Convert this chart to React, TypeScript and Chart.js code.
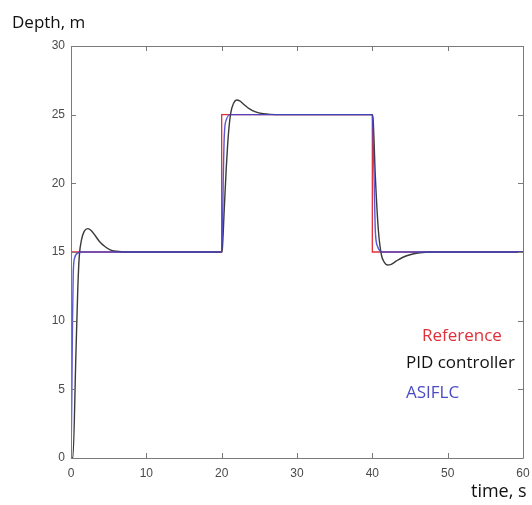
import React, { useEffect, useRef } from "react";
import { Chart, registerables } from "chart.js";

Chart.register(...registerables);

// Reference (setpoint) step signal
const refTime = [0, 0, 20, 20, 40, 40, 60];
const refDepth = [0, 15, 15, 25, 25, 15, 15];

// PID controller response
const pidTime = [0, 0.25, 0.65, 0.9, 1.1, 1.4, 1.75, 2.25, 2.7, 3.2, 3.8, 4.5, 5.2, 6.0, 7.5, 20.0, 20.1, 20.35, 20.6, 20.9, 21.2, 21.6, 22.0, 22.4, 23.0, 23.7, 24.5, 25.5, 26.5, 28, 40.0, 40.1, 40.4, 40.8, 41.2, 41.6, 42.0, 42.5, 43.2, 44, 45, 46.3, 48, 60];
const pidDepth = [0, 0, 7.5, 12.3, 14.7, 15.9, 16.5, 16.7, 16.55, 16.2, 15.75, 15.4, 15.15, 15.05, 15, 15, 15.3, 18.2, 21.0, 23.6, 25.1, 25.85, 26.07, 26.0, 25.72, 25.42, 25.2, 25.07, 25.02, 25, 25, 24.7, 20.5, 16.6, 14.8, 14.25, 14.05, 14.1, 14.35, 14.6, 14.8, 14.95, 15, 15];

// ASIFLC response
const asiTime = [0, 0.1, 0.2, 0.3, 0.5, 1.0, 1.5, 20, 20.1, 20.2, 20.35, 20.6, 21.2, 40, 40.1, 40.25, 40.4, 40.7, 41.3, 60];
const asiDepth = [0, 4, 10, 13.5, 14.6, 14.95, 15, 15, 16.5, 20, 23.5, 24.6, 25, 25, 23.5, 20, 16.5, 15.4, 15, 15];

const xTicksStep = 10;
const yTicksStep = 5;

const legendLabels = ["Reference", "PID controller", "ASIFLC"];
const legendColors = ["#e0303a", "#111111", "#4b4bc8"];

const toPoints = (t: number[], v: number[]) => t.map((x, i) => ({ x, y: v[i] }));

const boxPlugin = {
  id: "matlabBox",
  afterDraw(chart: any) {
    const { ctx, chartArea } = chart;
    const { left, right, top, bottom } = chartArea;
    const xs = chart.scales.x;
    const ys = chart.scales.y;
    ctx.save();
    ctx.strokeStyle = "#7a7a7a";
    ctx.lineWidth = 1;
    ctx.beginPath();
    ctx.rect(left + 0.5, top + 0.5, right - left, bottom - top);
    ctx.stroke();
    const tl = 5;
    ctx.beginPath();
    xs.ticks.forEach((t: any) => {
      const px = Math.round(xs.getPixelForValue(t.value)) + 0.5;
      ctx.moveTo(px, bottom);
      ctx.lineTo(px, bottom - tl);
      ctx.moveTo(px, top);
      ctx.lineTo(px, top + tl);
    });
    ys.ticks.forEach((t: any) => {
      const py = Math.round(ys.getPixelForValue(t.value)) + 0.5;
      ctx.moveTo(left, py);
      ctx.lineTo(left + tl, py);
      ctx.moveTo(right, py);
      ctx.lineTo(right - tl, py);
    });
    ctx.stroke();

    // axis titles
    ctx.fillStyle = "#111";
    ctx.textBaseline = "middle";
    ctx.textAlign = "left";
    ctx.font = "17px 'Open Sans'";
    ctx.fillText("Depth, m", 12, 23);
    ctx.font = "18px 'Open Sans'";
    ctx.fillText("time, s", 471, 492);

    // legend texts
    ctx.font = "17px 'Open Sans'";
    const pos = [
      [422, 336],
      [406, 363],
      [406, 393],
    ];
    legendLabels.forEach((lab, i) => {
      ctx.fillStyle = legendColors[i];
      ctx.fillText(lab, pos[i][0], pos[i][1]);
    });
    ctx.restore();
  },
};

export default function App() {
  const ref = useRef<HTMLCanvasElement | null>(null);
  useEffect(() => {
    if (!ref.current) return;
    const tickFont = { family: "'Liberation Sans', Arial, sans-serif", size: 12 };
    const chart = new Chart(ref.current, {
      type: "line",
      data: {
        datasets: [
          {
            label: "ASIFLC",
            data: toPoints(asiTime, asiDepth),
            borderColor: "rgba(70,70,205,0.9)",
            borderWidth: 1.4,
            pointRadius: 0,
            cubicInterpolationMode: "monotone",
          },
          {
            label: "PID controller",
            data: toPoints(pidTime, pidDepth),
            borderColor: "#3a3a3a",
            borderWidth: 1.4,
            pointRadius: 0,
            cubicInterpolationMode: "monotone",
          },
          {
            label: "Reference",
            data: toPoints(refTime, refDepth),
            borderColor: "#e0303a",
            borderWidth: 1.3,
            pointRadius: 0,
            tension: 0,
          },
        ],
      },
      options: {
        animation: false,
        responsive: false,
        devicePixelRatio: 1,
        layout: { padding: { top: 46, right: 9, left: 0, bottom: 0 } },
        plugins: { legend: { display: false }, tooltip: { enabled: false } },
        scales: {
          x: {
            type: "linear",
            min: 0,
            max: 60,
            ticks: { stepSize: xTicksStep, color: "#4a4a4a", font: tickFont, padding: 8, maxRotation: 0 },
            grid: { display: false, drawTicks: false },
            border: { display: false },
            afterFit: (s: any) => {
              s.height = 47;
              s.paddingLeft = 0;
              s.paddingRight = 0;
            },
          },
          y: {
            type: "linear",
            min: 0,
            max: 30,
            ticks: { stepSize: yTicksStep, color: "#4a4a4a", font: tickFont, padding: 6 },
            grid: { display: false, drawTicks: false },
            border: { display: false },
            afterFit: (s: any) => {
              s.width = 71;
              s.paddingTop = 0;
              s.paddingBottom = 0;
            },
          },
        },
      } as any,
      plugins: [boxPlugin],
    });
    return () => chart.destroy();
  }, []);
  return (
    <div style={{ position: "fixed", left: 0, top: 0, width: 532, height: 505, background: "#fff" }}>
      <canvas ref={ref} width={532} height={505} />
    </div>
  );
}
